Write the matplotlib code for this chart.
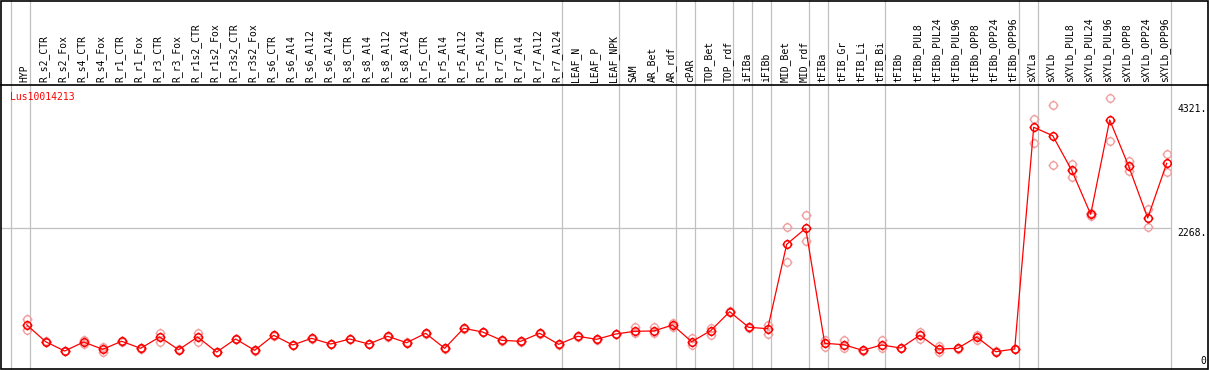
import matplotlib
matplotlib.use("Agg")
import matplotlib.pyplot as plt
from matplotlib.path import Path
from matplotlib.lines import Line2D
from matplotlib.patches import Rectangle
from matplotlib.transforms import offset_copy

# ---------------- data ----------------
gene = "Lus10014213"
samples = [
    "HYP", "R_s2_CTR", "R_s2_Fox", "R_s4_CTR", "R_s4_Fox", "R_r1_CTR", "R_r1_Fox",
    "R_r3_CTR", "R_r3_Fox", "R_r1s2_CTR", "R_r1s2_Fox", "R_r3s2_CTR", "R_r3s2_Fox",
    "R_s6_CTR", "R_s6_Al4", "R_s6_Al12", "R_s6_Al24", "R_s8_CTR", "R_s8_Al4",
    "R_s8_Al12", "R_s8_Al24", "R_r5_CTR", "R_r5_Al4", "R_r5_Al12", "R_r5_Al24",
    "R_r7_CTR", "R_r7_Al4", "R_r7_Al12", "R_r7_Al24", "LEAF_N", "LEAF_P", "LEAF_NPK",
    "SAM", "AR_Bet", "AR_rdf", "cPAR", "TOP_Bet", "TOP_rdf", "iFIBa", "iFIBb",
    "MID_Bet", "MID_rdf", "tFIBa", "tFIB_Gr", "tFIB_Li", "tFIB_Bi", "tFIBb",
    "tFIBb_PUL8", "tFIBb_PUL24", "tFIBb_PUL96", "tFIBb_OPP8", "tFIBb_OPP24",
    "tFIBb_OPP96", "sXYLa", "sXYLb", "sXYLb_PUL8", "sXYLb_PUL24", "sXYLb_PUL96",
    "sXYLb_OPP8", "sXYLb_OPP24", "sXYLb_OPP96",
]
means = [
    676, 396, 243, 391, 271, 403, 287, 474, 264, 474, 226, 441, 254,
    502, 342, 452, 358, 441, 358, 485, 380, 535, 287, 617, 556,
    419, 403, 535, 353, 485, 436, 523,
    568, 573, 672, 396, 578, 891, 634, 611,
    2003, 2267, 370, 347, 254, 342, 292,
    502, 276, 287, 474, 231, 276,
    3934, 3795, 3224, 2498, 4054, 3290, 2437, 3340,
]
rep_high = [
    770, 400, 250, 424, 304, 410, 292, 535, 270, 545, 232, 447, 260,
    508, 348, 458, 364, 447, 364, 491, 386, 541, 293, 623, 562,
    425, 409, 541, 359, 491, 442, 529,
    644, 634, 700, 462, 617, 897, 640, 672,
    2284, 2482, 424, 424, 260, 424, 298,
    561, 325, 293, 507, 237, 282,
    4071, 4302, 3328, 2515, 4417, 3378, 2581, 3488,
]
rep_low = [
    590, 390, 237, 353, 226, 397, 281, 396, 258, 396, 220, 435, 248,
    496, 336, 446, 352, 435, 352, 479, 374, 529, 281, 611, 550,
    413, 397, 529, 347, 479, 430, 517,
    535, 545, 644, 337, 507, 885, 628, 523,
    1706, 2053, 304, 287, 248, 287, 286,
    441, 221, 281, 424, 225, 270,
    3670, 3307, 3119, 2470, 3703, 3218, 2289, 3191,
]
# index of the last sample in each group (-1 = left edge)
group_ends = [-1, 0, 28, 31, 34, 35, 37, 38, 39, 41, 42, 45, 52, 53, 60]
yticks = [0, 2268, 4321]
ytick_labels = ["0", "2268.", "4321."]

# ---------------- layout ----------------
W, H = 1209, 370
fig = plt.figure(figsize=(W / 100, H / 100), dpi=100)
fig.patch.set_facecolor("white")


def box(x0, y0, x1, y1):
    return [x0 / W, 1 - y1 / H, (x1 - x0) / W, (y1 - y0) / H]


ax = fig.add_axes(box(1, 85, 1170.7, 369))
hx = fig.add_axes(box(1, 0, 1170.7, 85))

n = len(samples)
xlim = (-1.35, n - 1 + 0.21)
GRAY = "#c0c0c0"
RED = "#ff0000"
PINK = "#f0a0a0"
FONT = "DejaVu Sans Mono"

for a in (ax, hx):
    a.set_xlim(*xlim)
    for s in a.spines.values():
        s.set_visible(False)
    a.set_xticks([])
    a.tick_params(left=False, labelleft=False)
    for e in group_ends:
        a.axvline(e + 0.2, color=GRAY, lw=0.9, zorder=0.5, clip_on=False)

hx.set_ylim(0, 1)
hx.set_yticks([])

ax.set_ylim(-54, 4631)
ax.axhline(yticks[1], color=GRAY, lw=0.9, zorder=0.5)

# marker: ring with four small ticks
tick_v, tick_c = [], []
for dx, dy in [(1, 0), (-1, 0), (0, 1), (0, -1)]:
    tick_v += [(dx, dy), (dx * 1.35, dy * 1.35)]
    tick_c += [Path.MOVETO, Path.LINETO]
marker = Path.make_compound_path(Path.circle((0, 0), 1.0), Path(tick_v, tick_c))

x = list(range(n))
ax.plot(x, rep_high, ls="none", marker=marker, ms=7.2, mfc="none",
        mec=PINK, mew=1.0, zorder=2)
ax.plot(x, rep_low, ls="none", marker=marker, ms=7.2, mfc="none",
        mec=PINK, mew=1.0, zorder=2)
ax.plot(x, means, color=RED, lw=0.9, marker=marker, ms=7.2, mfc="none",
        mec=RED, mew=1.1, zorder=3)

# right-hand value labels
ax.yaxis.tick_right()
ax.set_yticks(yticks)
ax.set_yticklabels(ytick_labels)
ax.tick_params(axis="y", right=False, labelright=True, length=0, pad=25.9,
               labelsize=7)
for lab, v in zip(ax.get_yticklabels(), yticks):
    lab.set_ha("right")
    lab.set_family(FONT)
    lab.set_va("bottom" if v == 0 else "top")

# gene name
ax.annotate(gene, xy=(0, 1), xycoords="axes fraction", xytext=(6.5, -8.6),
            textcoords="offset points", color=RED, fontsize=7, family=FONT,
            ha="left", va="center")

# sample labels in header
tr = offset_copy(hx.transData, fig=fig, x=-1.8, y=2.5, units="dots")
for i, s in enumerate(samples):
    hx.text(i, 0, s, rotation=90, ha="center", va="bottom", fontsize=7,
            family=FONT, transform=tr)

# outer frame and header divider
fig.add_artist(Rectangle((1 / W, 1 - 369 / H), 1207 / W, 368 / H,
                         transform=fig.transFigure, fill=False,
                         edgecolor="black", lw=1.2))
fig.add_artist(Line2D([1 / W, 1208 / W], [1 - 85 / H, 1 - 85 / H],
                      transform=fig.transFigure, color="black", lw=1.2))

fig.savefig("out.png", dpi=100)
